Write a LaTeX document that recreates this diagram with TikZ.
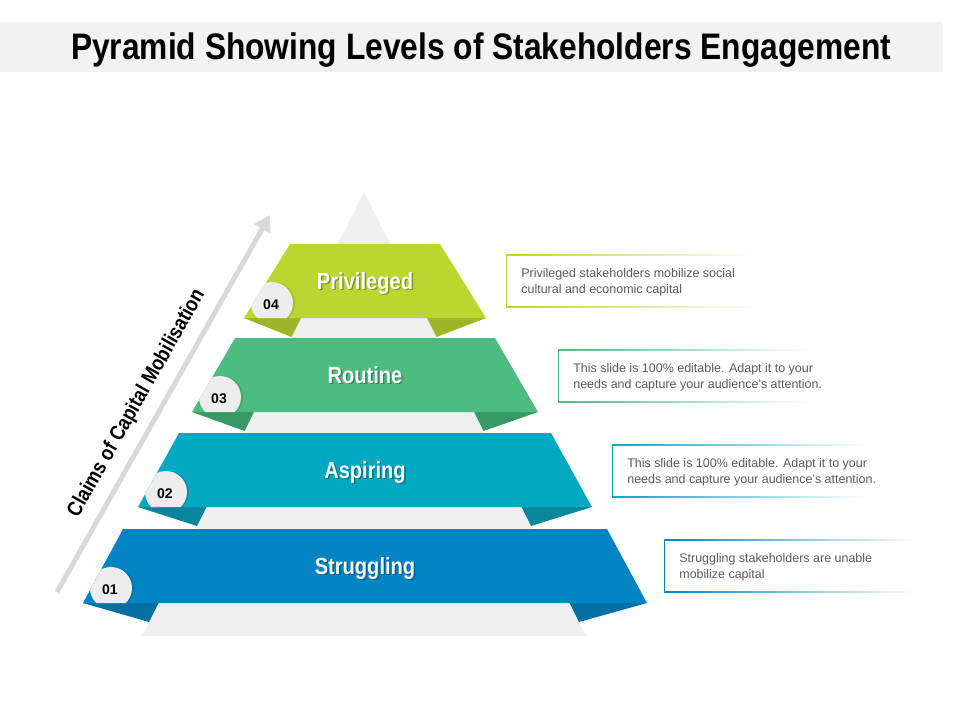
\documentclass[tikz,border=0pt]{standalone}
\usepackage{fontspec}
\setmainfont{Liberation Sans}
\newfontfamily\narrowfont[FakeStretch=0.86]{Liberation Sans}
\usetikzlibrary{arrows.meta, positioning}
\definecolor{titlegray}{HTML}{F2F2F2}
\definecolor{pyrgray}{HTML}{EFEFEF}
\definecolor{arrowgray}{HTML}{D9D9D9}
\definecolor{textgray}{HTML}{595959}
\definecolor{privlime}{HTML}{BCD630}
\definecolor{privdark}{HTML}{9DB526}
\definecolor{routgreen}{HTML}{4CBC81}
\definecolor{routdark}{HTML}{379966}
\definecolor{aspteal}{HTML}{02A8C2}
\definecolor{aspdark}{HTML}{08879C}
\definecolor{strublue}{HTML}{0284C2}
\definecolor{strudark}{HTML}{036FA3}
\tikzset{
    titletext/.style={font=\narrowfont\bfseries\fontsize{21}{24}\selectfont, text=black, anchor=base},
    bandlabel/.style={font=\narrowfont\bfseries\fontsize{13.3}{15}\selectfont, text=white, anchor=base},
    bandshadow/.style={bandlabel, text=black, opacity=0.3},
    badgetext/.style={font=\bfseries\fontsize{8}{9}\selectfont, text=black, anchor=base},
    desctext/.style={font=\fontsize{7.1}{9}\selectfont, text=textgray, align=left, anchor=base west, inner sep=0pt},
    axistext/.style={font=\bfseries\fontsize{12}{14}\selectfont, text=black}
}

\begin{document}
\begin{tikzpicture}[x=0.02cm, y=-0.02cm]
    \useasboundingbox (0,0) rectangle (960,720);

    % Title bar
    \fill[titlegray] (0,22) rectangle (943,72);
    \node[titletext] (title) at (481,59) {Pyramid Showing Levels of Stakeholders Engagement};

    % Grey pyramid behind the bands
    \fill[pyrgray] (364,192) -- (586,636) -- (142,636) -- cycle;

    % Bands with folded tabs and number badges
    \foreach \i/\lbl/\yt/\ht/\hb/\fc/\dc in {1/Struggling/529/242/282/strublue/strudark,
        2/Aspiring/433/186/227/aspteal/aspdark, 3/Routine/338/130/173/routgreen/routdark,
        4/Privileged/244/75/121/privlime/privdark} {
        \pgfmathsetmacro{\yb}{\yt+74}
        \pgfmathsetmacro{\pe}{(\yb-192)/2}
        \pgfmathsetmacro{\pf}{(\yb+19-192)/2}
        \fill[\dc] (365-\hb,\yb) -- (364-\pe,\yb) -- (364-\pf,\yb+19) -- cycle;
        \fill[\dc] (365+\hb,\yb) -- (364+\pe,\yb) -- (364+\pf,\yb+19) -- cycle;
        \fill[\fc] (365-\ht,\yt) -- (365+\ht,\yt) -- (365+\hb,\yb) -- (365-\hb,\yb) -- cycle;
        \begin{scope}
            \clip (365-\ht,\yt) -- (365+\ht,\yt) -- (365+\hb,\yb) -- (365-\hb,\yb) -- cycle;
            \fill[black, opacity=0.12] (395-\hb,\yb-15) circle (21);
            \fill[gray!14] (393-\hb,\yb-15) circle (21);
            \shade[inner color=white, outer color=gray!14] (393-\hb,\yb-15) circle (17);
        \end{scope}
        \node[badgetext] (num-\i) at (392-\hb,\yb-9) {0\i};
        \node[bandshadow] at (366.5,\yt+46.5) {\lbl};
        \node[bandlabel] (band-\i) at (365,\yt+45) {\lbl};
    }

    % Description boxes
    \foreach \i/\bx/\by/\fc/\txt in {4/506/254/privlime/{Privileged stakeholders mobilize social\\cultural and economic capital},
        3/558/349/routgreen/{This slide is 100\% editable. Adapt it to your\\needs and capture your audience's attention.},
        2/612/444/aspteal/{This slide is 100\% editable. Adapt it to your\\needs and capture your audience's attention.},
        1/664/539/strublue/{Struggling stakeholders are unable\\mobilize capital}} {
        \shade[left color=\fc, middle color=\fc!45, right color=white] (\bx,\by) rectangle ++(255,1.3);
        \shade[left color=\fc, middle color=\fc!45, right color=white] (\bx,\by+52) rectangle ++(255,1.3);
        \fill[\fc] (\bx,\by) rectangle ++(1.4,53.3);
        \node[desctext] (desc-\i) at (\bx+15,\by+39) {\txt};
    }

    % Axis arrow
    \coordinate (axis-start) at (57,592);
    \coordinate (axis-end) at (270,215);
    \draw[arrowgray, line width=2.8pt, -{Triangle[length=9pt,width=10pt]}] (axis-start) -- (axis-end)
        node[axistext, pos=0.47, sloped, above=3pt] (axis-label) {\scalebox{0.86}[1]{Claims of Capital Mobilisation}};
\end{tikzpicture}
\end{document}
